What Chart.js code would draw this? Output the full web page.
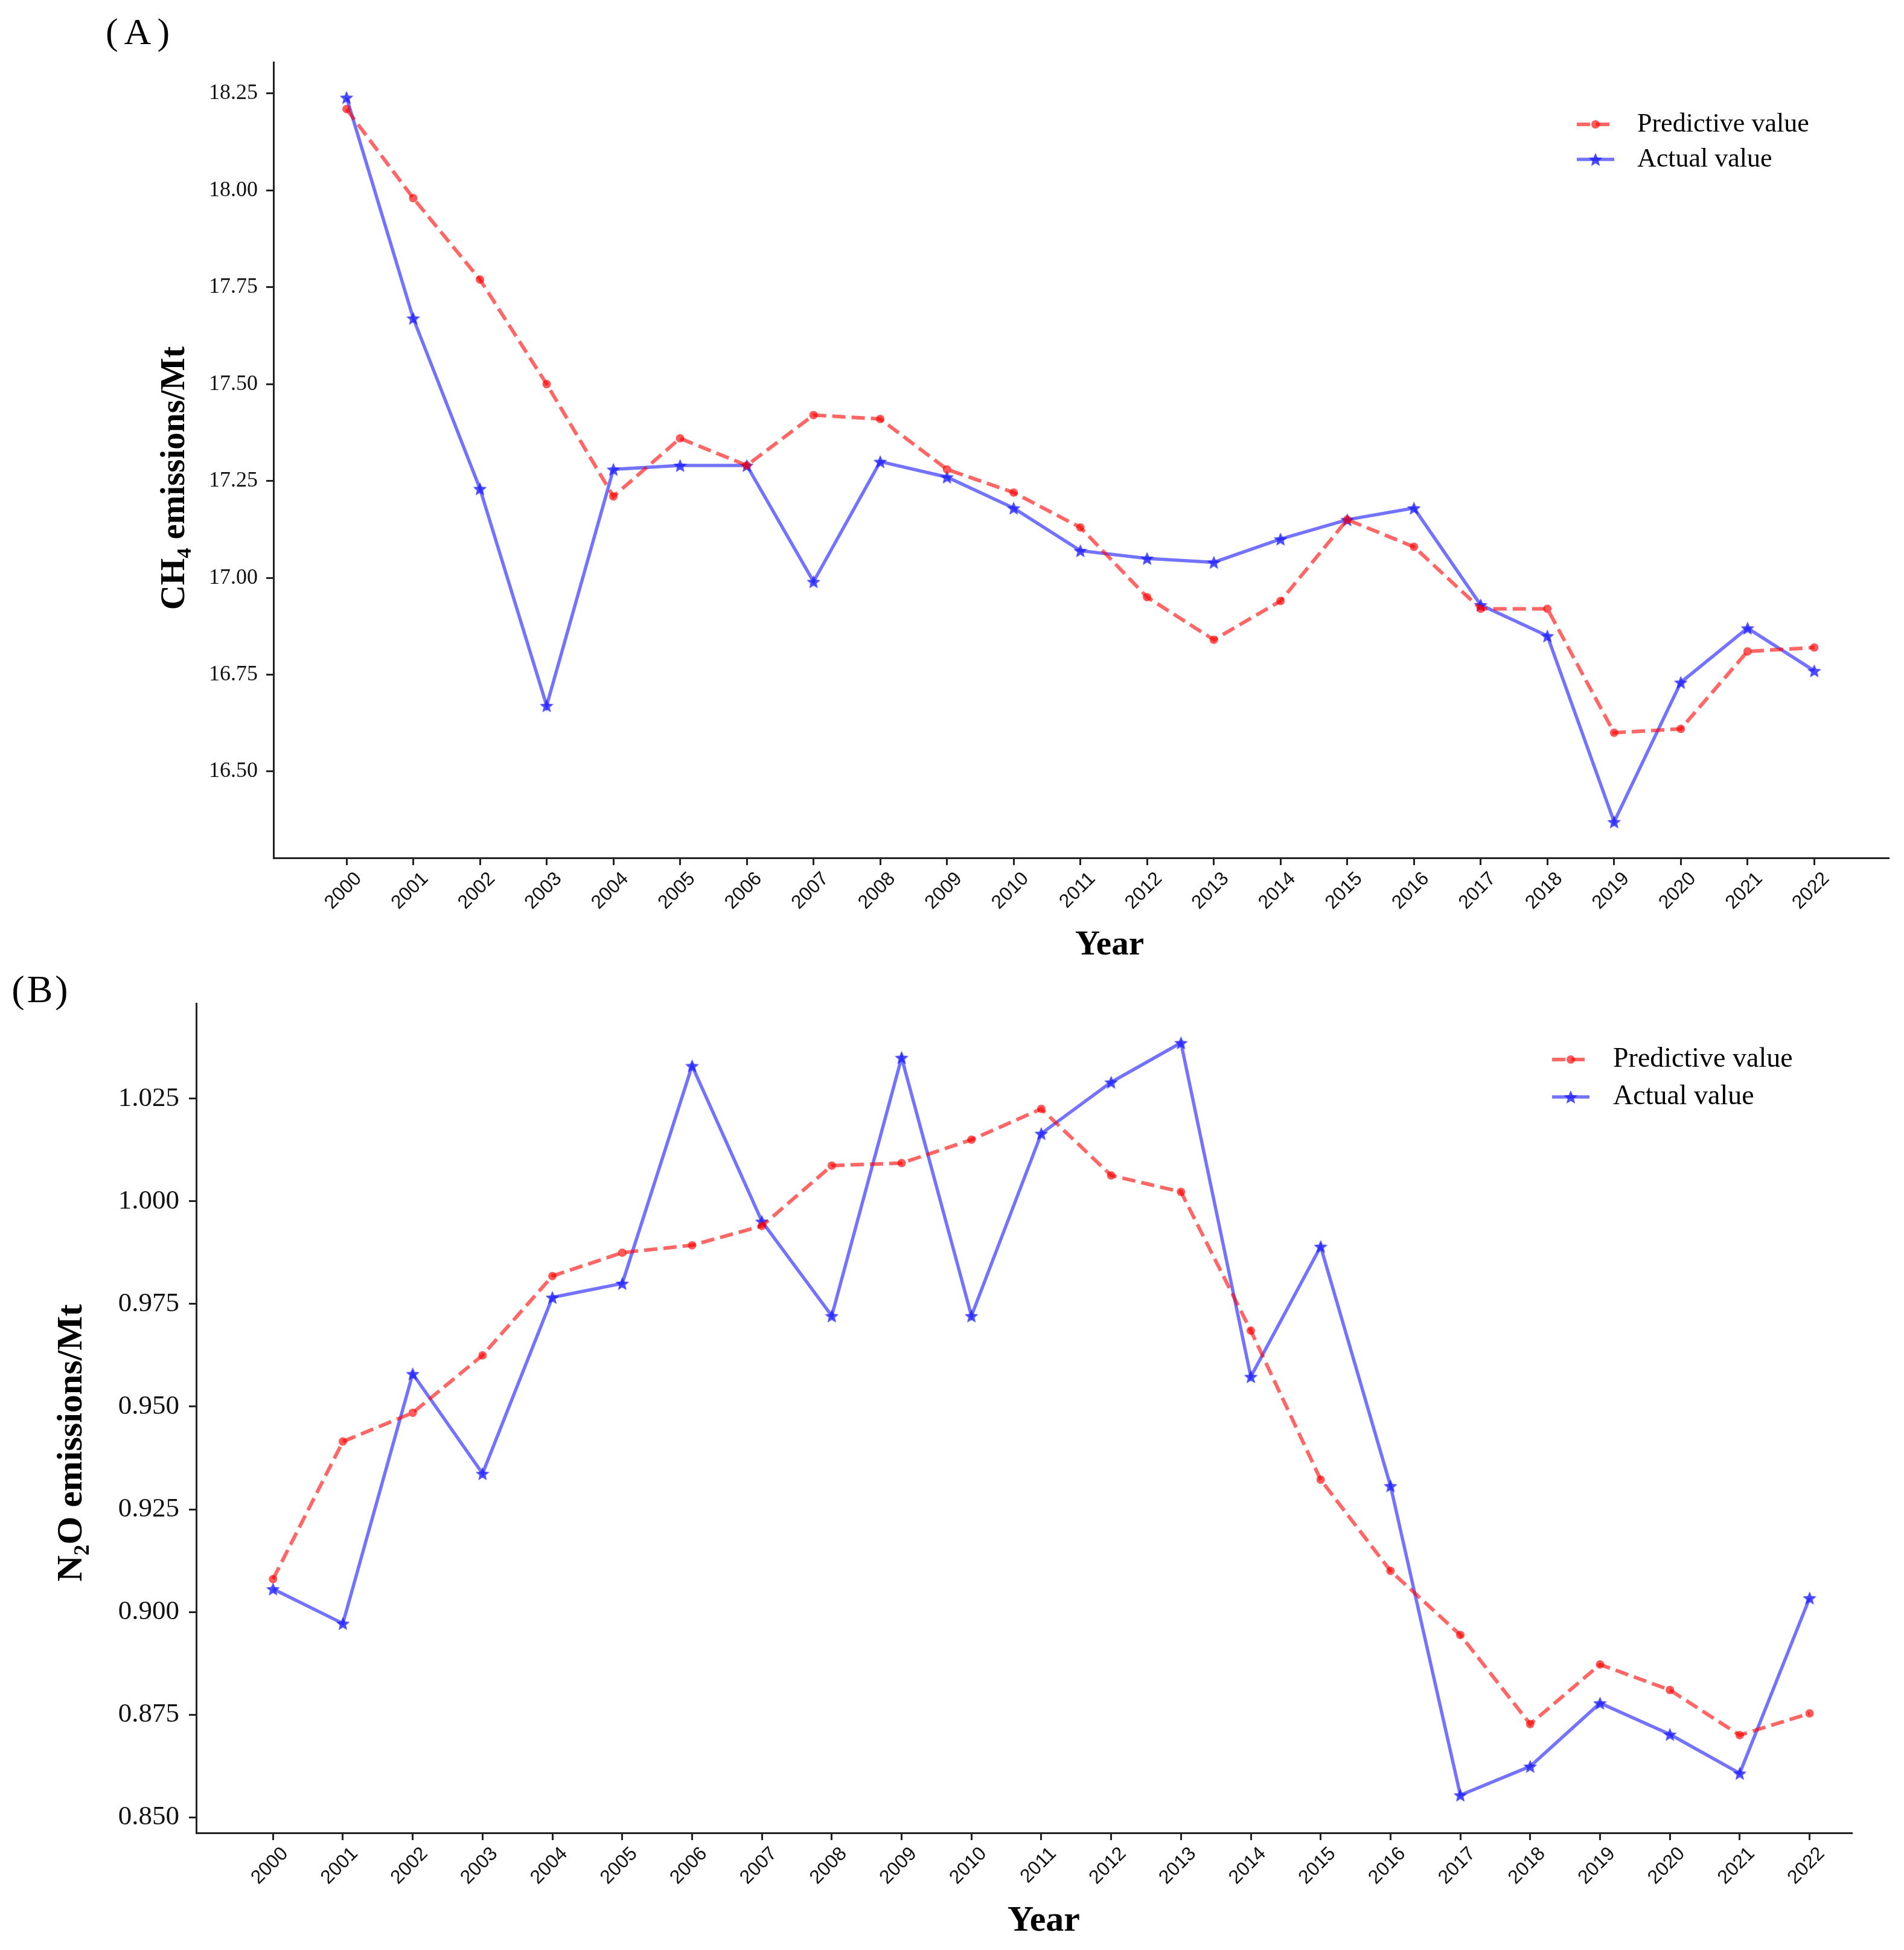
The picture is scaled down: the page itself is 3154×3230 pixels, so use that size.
<!DOCTYPE html>
<html>
<head>
<meta charset="utf-8">
<script src="https://cdn.jsdelivr.net/npm/chart.js@4.4.1/dist/chart.umd.min.js"></script>
<style>
  html, body { margin: 0; padding: 0; background: #fff; }
  #wrap { position: relative; width: 3154px; height: 3230px; }
  canvas { position: absolute; left: 0; }
  #chartA { top: 0; }
  #chartB { top: 1580px; }
</style>
</head>
<body>
<div id="wrap">
  <canvas id="chartA" width="3154" height="1620"></canvas>
  <canvas id="chartB" width="3154" height="1650"></canvas>
</div>
<script>
// data
const years = [2000, 2001, 2002, 2003, 2004, 2005, 2006, 2007, 2008, 2009, 2010, 2011,
  2012, 2013, 2014, 2015, 2016, 2017, 2018, 2019, 2020, 2021, 2022];
const seriesLabels = ["Predictive value", "Actual value"];

const ch4Predictive = [18.21, 17.98, 17.77, 17.50, 17.21, 17.36, 17.29, 17.42, 17.41, 17.28, 17.22, 17.13,
  16.95, 16.84, 16.94, 17.15, 17.08, 16.92, 16.92, 16.60, 16.61, 16.81, 16.82];
const ch4Actual = [18.24, 17.67, 17.23, 16.67, 17.28, 17.29, 17.29, 16.99, 17.30, 17.26, 17.18, 17.07,
  17.05, 17.04, 17.10, 17.15, 17.18, 16.93, 16.85, 16.37, 16.73, 16.87, 16.76];
const ch4Ticks = [16.5, 16.75, 17.0, 17.25, 17.5, 17.75, 18.0, 18.25];

const n2oPredictive = [0.908, 0.9415, 0.9485, 0.9625, 0.9818, 0.9875, 0.9893, 0.994, 1.0087, 1.0093, 1.015, 1.0225,
  1.0063, 1.0023, 0.9685, 0.9322, 0.910, 0.8944, 0.8727, 0.8872, 0.881, 0.870, 0.8753];
const n2oActual = [0.9056, 0.8972, 0.958, 0.9337, 0.9766, 0.980, 1.033, 0.9951, 0.9721, 1.035, 0.9721, 1.0165,
  1.029, 1.0386, 0.9573, 0.989, 0.9307, 0.8554, 0.8624, 0.8778, 0.8702, 0.8607, 0.9034];
const n2oTicks = [0.85, 0.875, 0.9, 0.925, 0.95, 0.975, 1.0, 1.025];

const SERIF = "'Liberation Serif', 'Times New Roman', serif";
const SANS = "'Liberation Sans', Arial, sans-serif";
const axisColor = "#222";
const redLine = "rgba(255, 0, 0, 0.6)";
const blueLine = "rgba(0, 0, 255, 0.55)";

// filled 5-point star used as point marker
const makeStar = (r, color) => {
  const c = document.createElement("canvas");
  const s = Math.ceil(r * 2 + 2);
  c.width = s;
  c.height = s;
  const g = c.getContext("2d");
  g.fillStyle = color;
  g.beginPath();
  for (let k = 0; k < 10; k++) {
    const rad = k % 2 === 0 ? r : r * 0.45;
    const a = -Math.PI / 2 + (k * Math.PI) / 5;
    const px = s / 2 + rad * Math.cos(a);
    const py = s / 2 + rad * Math.sin(a) + r * 0.1;
    if (k === 0) g.moveTo(px, py);
    else g.lineTo(px, py);
  }
  g.closePath();
  g.fill();
  return c;
};
const starMark = makeStar(12, "rgba(30, 30, 255, 0.8)");

// panel tag, axis titles and legend (line with marker in the middle)
const panelDecor = {
  id: "panelDecor",
  afterDraw(chart, args, opts) {
    const ctx = chart.ctx;
    ctx.save();
    ctx.fillStyle = "#000";
    ctx.textAlign = "center";
    ctx.textBaseline = "middle";

    ctx.font = opts.tagFont;
    ctx.letterSpacing = opts.tagSpacing || "0px";
    ctx.fillText(opts.tag, opts.tagX, opts.tagY);
    ctx.letterSpacing = "0px";

    ctx.font = opts.titleFont;
    ctx.fillText(opts.xTitle, opts.xTitleX, opts.xTitleY);
    ctx.save();
    ctx.translate(opts.yTitleX, opts.yTitleY);
    ctx.rotate(-Math.PI / 2);
    ctx.fillText(opts.yTitle, 0, 0);
    ctx.restore();

    chart.data.datasets.forEach((ds, i) => {
      const y = opts.legendY + i * opts.legendGap;
      const x0 = opts.legendX;
      ctx.strokeStyle = ds.borderColor;
      ctx.lineWidth = ds.borderWidth;
      ctx.setLineDash(ds.borderDash || []);
      ctx.beginPath();
      ctx.moveTo(x0, y);
      ctx.lineTo(x0 + opts.lineLen, y);
      ctx.stroke();
      ctx.setLineDash([]);
      const cx = x0 + opts.lineLen / 2;
      if (ds.pointStyle === "circle") {
        ctx.fillStyle = ds.pointBackgroundColor;
        ctx.beginPath();
        ctx.arc(cx, y, ds.pointRadius, 0, Math.PI * 2);
        ctx.fill();
      } else {
        ctx.drawImage(ds.pointStyle, cx - ds.pointStyle.width / 2, y - ds.pointStyle.height / 2);
      }
      ctx.fillStyle = "#000";
      ctx.font = opts.legendFont;
      ctx.textAlign = "left";
      ctx.fillText(ds.label, x0 + opts.lineLen + opts.textGap, y);
    });
    ctx.restore();
  },
};

const makeChart = (id, cfg) =>
  new Chart(document.getElementById(id), {
    type: "line",
    data: {
      datasets: [
        {
          label: seriesLabels[0],
          data: years.map((yr, i) => ({ x: yr, y: cfg.pred[i] })),
          borderColor: redLine,
          borderWidth: 6,
          borderDash: [22, 10],
          pointStyle: "circle",
          pointRadius: 7,
          pointBackgroundColor: "rgba(255, 0, 0, 0.65)",
          pointBorderWidth: 0,
          tension: 0,
        },
        {
          label: seriesLabels[1],
          data: years.map((yr, i) => ({ x: yr, y: cfg.actual[i] })),
          borderColor: blueLine,
          borderWidth: 5.5,
          pointStyle: starMark,
          pointRadius: 12,
          pointBorderWidth: 0,
          tension: 0,
        },
      ],
    },
    options: {
      responsive: false,
      animation: false,
      devicePixelRatio: 1,
      layout: { padding: { top: cfg.padTop, right: cfg.padRight, left: 0, bottom: 0 } },
      plugins: {
        legend: { display: false },
        tooltip: { enabled: false },
        panelDecor: cfg.decor,
      },
      scales: {
        x: {
          type: "linear",
          min: cfg.xMin,
          max: cfg.xMax,
          afterBuildTicks: (axis) => {
            axis.ticks = years.map((v) => ({ value: v }));
          },
          afterFit: (scale) => {
            scale.height = cfg.xHeight;
          },
          grid: { drawOnChartArea: false, tickLength: 12, color: axisColor, lineWidth: 3 },
          border: { display: true, color: axisColor, width: 3 },
          ticks: {
            autoSkip: false,
            minRotation: 45,
            maxRotation: 45,
            labelOffset: 20,
            padding: 4,
            color: "#111",
            font: { family: SANS, size: cfg.xTickSize },
            callback: (v) => String(v),
          },
        },
        y: {
          min: cfg.yMin,
          max: cfg.yMax,
          afterBuildTicks: (axis) => {
            axis.ticks = cfg.yTicks.map((v) => ({ value: v }));
          },
          afterFit: (scale) => {
            scale.width = cfg.yWidth;
          },
          grid: { drawOnChartArea: false, tickLength: 12, color: axisColor, lineWidth: 3 },
          border: { display: true, color: axisColor, width: 3 },
          ticks: {
            padding: cfg.yTickPad,
            color: "#111",
            font: { family: SERIF, size: cfg.yTickSize },
            callback: (v) => v.toFixed(cfg.decimals),
          },
        },
      },
    },
    plugins: [panelDecor],
  });

makeChart("chartA", {
  pred: ch4Predictive,
  actual: ch4Actual,
  yTicks: ch4Ticks,
  decimals: 2,
  yMin: 16.277,
  yMax: 18.331,
  xMin: 1998.905,
  xMax: 2023.11,
  padTop: 103,
  padRight: 26,
  xHeight: 199,
  yWidth: 453,
  xTickSize: 32,
  yTickSize: 36,
  yTickPad: 14,
  decor: {
    tag: "(A)", tagX: 233, tagY: 57, tagFont: "62px " + SERIF, tagSpacing: "10px",
    titleFont: "bold 57px " + SERIF,
    xTitle: "Year", xTitleX: 1838, xTitleY: 1566,
    yTitle: "CH₄ emissions/Mt", yTitleX: 290, yTitleY: 792,
    legendX: 2612, legendY: 206, legendGap: 58, lineLen: 62, textGap: 38,
    legendFont: "44px " + SERIF,
  },
});

makeChart("chartB", {
  pred: n2oPredictive,
  actual: n2oActual,
  yTicks: n2oTicks,
  decimals: 3,
  yMin: 0.8462,
  yMax: 1.0482,
  xMin: 1998.9,
  xMax: 2022.6,
  padTop: 82,
  padRight: 87,
  xHeight: 194,
  yWidth: 325,
  xTickSize: 32,
  yTickSize: 45,
  yTickPad: 16,
  decor: {
    tag: "(B)", tagX: 68, tagY: 63, tagFont: "64px " + SERIF, tagSpacing: "4px",
    titleFont: "bold 60px " + SERIF,
    xTitle: "Year", xTitleX: 1729, xTitleY: 1602,
    yTitle: "N₂O emissions/Mt", yTitleX: 119, yTitleY: 810,
    legendX: 2571, legendY: 175, legendGap: 62, lineLen: 62, textGap: 39,
    legendFont: "46px " + SERIF,
  },
});
</script>
</body>
</html>
